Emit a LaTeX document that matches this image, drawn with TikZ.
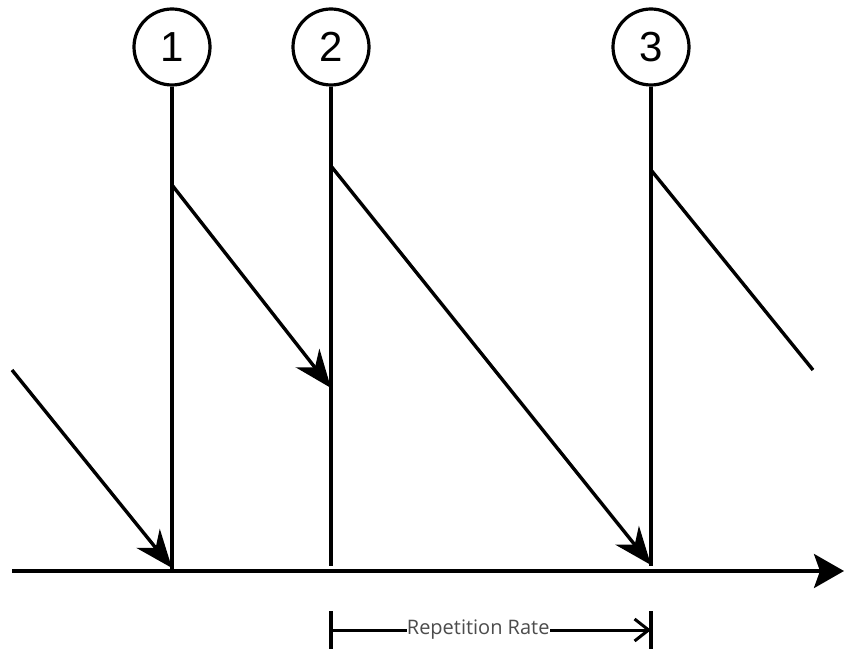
\documentclass[tikz,border=0pt]{standalone}
\usepackage{fontspec}
\setmainfont{Liberation Sans}
\newfontfamily\labelfont{Open Sans}
\usetikzlibrary{arrows.meta}
\begin{document}
\begin{tikzpicture}[x=1pt,y=-1pt,
  ln/.style={line width=3.4pt,black},
  numcirc/.style={circle,draw,line width=3.2pt,minimum size=76pt,inner sep=0pt,font=\fontsize{42}{42}\selectfont},
  bigtip/.style={-{Stealth[length=38pt,width=30pt,inset=12pt]}},
  axtip/.style={-{Stealth[length=30pt,width=34pt,inset=6pt]}}]
\useasboundingbox (0,0) rectangle (844,652);
% circles
\node[numcirc] (c1) at (172,47) {1};
\node[numcirc] (c2) at (331,47) {2};
\node[numcirc] (c3) at (651,47) {3};
% bottoms of verticals
\coordinate (b1) at (172,570);
\coordinate (b2) at (331,566);
\coordinate (b3) at (651,566);
\draw[ln] (c1.south) -- (b1);
\draw[ln] (c2.south) -- (b2);
\draw[ln] (c3.south) -- (b3);
% axis
\coordinate (a0) at (12,571);
\coordinate (a1) at (844,571);
\draw[ln,axtip] (a0) -- (a1);
% diagonals
\coordinate (d0) at (12,370);
\coordinate (t1) at (172,568);
\coordinate (s1) at (172,185);
\coordinate (t2) at (331,388);
\coordinate (s2) at (331,166);
\coordinate (t3) at (651,565);
\coordinate (s3) at (651,170);
\coordinate (e3) at (813,370);
\draw[ln,bigtip] (d0) -- (t1);
\draw[ln,bigtip] (s1) -- (t2);
\draw[ln,bigtip] (s2) -- (t3);
\draw[ln] (s3) -- (e3);
% repetition rate
\coordinate (r0) at (331,630);
\coordinate (r1) at (651,630);
\coordinate (r0t) at (331,611);
\coordinate (r0b) at (331,649);
\coordinate (r1t) at (651,611);
\coordinate (r1b) at (651,649);
\draw[line width=3.2pt] (r0t) -- (r0b);
\draw[line width=3.2pt] (r1t) -- (r1b);
\draw[line width=3pt,-{Straight Barb[length=14pt,width=22pt,line width=3pt]}] (r0) -- (r1)
  node[pos=0.46,fill=white,inner sep=0pt,text=black!70,font=\labelfont\fontsize{20}{20}\selectfont] (rl) {Repetition Rate};
\end{tikzpicture}
\end{document}
